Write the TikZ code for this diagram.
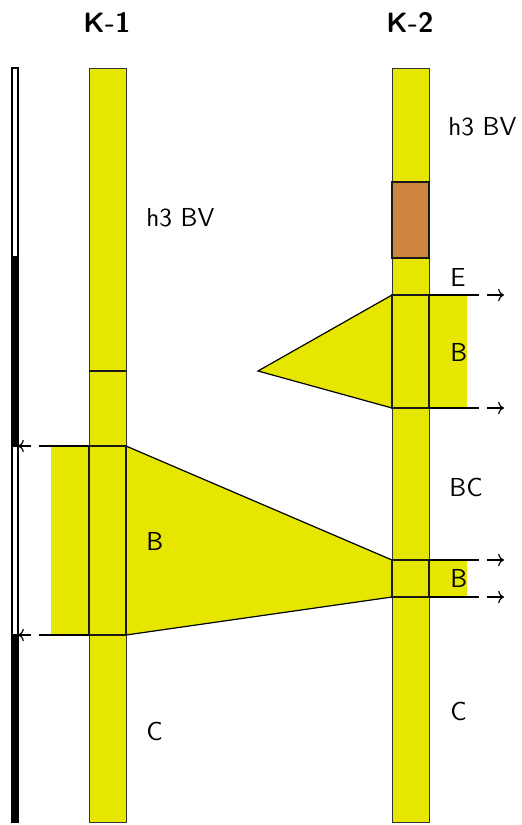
\documentclass[tikz,border=0pt]{standalone}
\usetikzlibrary{arrows.meta,positioning,calc,backgrounds}
\definecolor{layeryellow}{RGB}{230,230,0}
\definecolor{layerbrown}{RGB}{205,133,63}

\begin{document}
\begin{tikzpicture}[
        x=0.5pt, y=-0.5pt,
        column/.style={rectangle, anchor=north west, inner sep=0pt, outer sep=0pt,
            minimum width=18.5pt, minimum height=377pt, fill=layeryellow,
            draw=black!80, line width=0.5pt},
        unitbox/.style={rectangle, anchor=north west, inner sep=0pt, outer sep=0pt,
            minimum width=18.5pt, draw=black!90, line width=1.1pt},
        wedge/.style={fill=layeryellow, draw=black, line width=0.6pt},
        scalebar/.style={draw=black, line width=0.8pt},
        headtext/.style={font=\sffamily\bfseries\fontsize{14}{16}\selectfont},
        layertext/.style={anchor=west, inner sep=0pt,
            font=\sffamily\fontsize{13}{15}\selectfont},
        outflow/.style={line width=0.6pt},
        arrow/.style={line width=0.6pt, ->, >=To},
    ]
        \useasboundingbox (0,0) rectangle (521,825);

        % scale bar
        \foreach \from/\to/\shade in {68/257/white, 257/446/black, 446/635/white, 635/822/black}
            \draw[scalebar, fill=\shade] (12,\from) rectangle (18,\to);

        % columns
        \node (k1) [column] at (89,68) {};
        \node (k2) [column] at (392,68) {};
        \node (k1head) [headtext] at (107,22) {K-1};
        \node (k2head) [headtext] at (410,22) {K-2};

        % units
        \node (k1B) [unitbox, minimum height=94.5pt] at (89,446) {};
        \node (k2brown) [unitbox, minimum height=38pt, fill=layerbrown] at (392,182) {};
        \node (k2Bup) [unitbox, minimum height=56.5pt] at (392,295) {};
        \node (k2Blow) [unitbox, minimum height=18.5pt] at (392,560) {};
        \coordinate (k1split) at (89,371);
        \coordinate (apex) at (258,371);
        \draw[line width=1.1pt, draw=black!90] (k1split) -- (k1split -| k1.east);

        \begin{scope}[on background layer]
            \fill[layeryellow] (k1B.north west) rectangle ($(k1B.south west)+(-38,0)$);
            \fill[layeryellow] (k2Bup.north east) rectangle ($(k2Bup.south east)+(38,0)$);
            \fill[layeryellow] (k2Blow.north east) rectangle ($(k2Blow.south east)+(38,0)$);
            \draw[wedge] (k1B.north east) -- (k2Blow.north west) -- (k2Blow.south west)
                -- (k1B.south east) -- cycle;
            \draw[wedge] (k2Bup.north west) -- (apex) -- (k2Bup.south west) -- cycle;
        \end{scope}

        % outflow arrows
        \foreach \anchor in {k2Bup.north east, k2Bup.south east, k2Blow.north east, k2Blow.south east} {
            \draw[outflow] (\anchor) -- ++(50,0);
            \draw[arrow] ($(\anchor)+(58,0)$) -- ++(17,0);
        }
        \foreach \anchor in {k1B.north west, k1B.south west} {
            \draw[outflow] (\anchor) -- ++(-50,0);
            \draw[arrow] ($(\anchor)+(-58,0)$) -- ++(-13,0);
        }

        % labels
        \node (k1h3) [layertext] at (146,218) {h3 BV};
        \node (k1b) [layertext] at (146,541) {B};
        \node (k1c) [layertext] at (146,731) {C};
        \node (k2h3) [layertext] at (448,127) {h3 BV};
        \node (k2e) [layertext] at (450,277) {E};
        \node (k2b) [layertext] at (450,352) {B};
        \node (k2bc) [layertext] at (449,487) {BC};
        \node (k2bb) [layertext] at (450,578) {B};
        \node (k2c) [layertext] at (450,711) {C};
    \end{tikzpicture}
\end{document}
